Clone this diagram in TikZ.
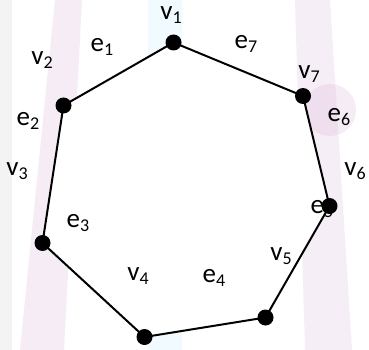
\documentclass[tikz,border=0pt]{standalone}
\usepackage{fontspec}
\setmainfont{Carlito}
\newcommand\lbl[2]{#1\raisebox{-4.5pt}{\fontsize{18}{18}\selectfont #2}}
\begin{document}
\begin{tikzpicture}[x=1pt,y=-1pt,
  dot/.style={circle,fill=black,inner sep=0pt,minimum size=16pt},
  edge/.style={line width=2pt,black},
  lab/.style={font=\fontsize{27}{30}\selectfont,inner sep=0pt},
  wm/.style={opacity=0.18}]
\useasboundingbox (0,0) rectangle (369,350);
\fill[white] (0,0) rectangle (369,350);
% faint watermark
\fill[gray!50,wm] (0,0) rectangle (12,350);
\fill[violet!40,wm] (55,0) -- (82,0) -- (64,350) -- (20,350) -- cycle;
\fill[cyan!30,wm] (148,0) rectangle (182,350);
\fill[violet!35,wm] (295,0) -- (330,0) -- (352,350) -- (305,350) -- cycle;
\fill[violet!40,wm] (330,110) circle (26);
% polygon
\coordinate (c1) at (173.5,42.5);
\coordinate (c2) at (63.5,105.5);
\coordinate (c3) at (42.5,243);
\coordinate (c4) at (144.5,337);
\coordinate (c5) at (265.5,317.5);
\coordinate (c6) at (329.5,206);
\coordinate (c7) at (303,96);
\fill[white] (c1) -- (c2) -- (c3) -- (c4) -- (c5) -- (c6) -- (c7) -- cycle;
% labels
\node[lab] (L1) at (171,15) {\lbl{v}{1}};
\node[lab] (L2) at (42,60) {\lbl{v}{2}};
\node[lab] (L3) at (17,171) {\lbl{v}{3}};
\node[lab] (L4) at (138,276) {\lbl{v}{4}};
\node[lab] (L5) at (281,256) {\lbl{v}{5}};
\node[lab] (L6) at (355,171) {\lbl{v}{6}};
\node[lab] (L7) at (309,74) {\lbl{v}{7}};
\node[lab] (E1) at (102,47) {\lbl{e}{1}};
\node[lab] (E2) at (28,121) {\lbl{e}{2}};
\node[lab] (E3) at (78,223) {\lbl{e}{3}};
\node[lab] (E4) at (214,278) {\lbl{e}{4}};
\node[lab] (E5) at (322,209) {\lbl{e}{5}};
\node[lab] (E6) at (339,117) {\lbl{e}{6}};
\node[lab] (E7) at (246,44) {\lbl{e}{7}};
% edges
\draw[edge] (c1) -- (c2) -- (c3) -- (c4) -- (c5) -- (c6) -- (c7) -- cycle;
% vertices
\node[dot] (v1) at (c1) {};
\node[dot] (v2) at (c2) {};
\node[dot] (v3) at (c3) {};
\node[dot] (v4) at (c4) {};
\node[dot] (v5) at (c5) {};
\node[dot] (v6) at (c6) {};
\node[dot] (v7) at (c7) {};
\end{tikzpicture}
\end{document}
